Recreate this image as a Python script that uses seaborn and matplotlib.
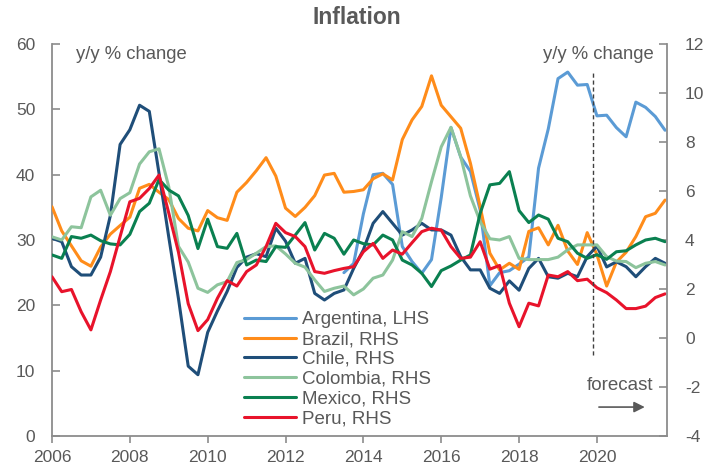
import numpy as np
import pandas as pd
import matplotlib.pyplot as plt
import seaborn as sns
from matplotlib.lines import Line2D

# quarterly observations, 2006Q1 .. 2021Q4
quarters = np.arange(2006, 2022, 0.25)

# Argentina is on the left axis, starts in mid-2013
argentina = [np.nan] * 30 + [
    25.0, 26.4,
    34.0, 40.0, 40.2, 38.5, 29.0, 26.7, 24.9, 27.0,
    36.5, 47.2, 42.7, 40.5, 34.6, 23.0, 25.0, 25.3,
    26.3, 27.4, 41.0, 47.0, 54.7, 55.7, 53.7, 53.8,
    49.0, 49.1, 47.2, 45.8, 51.1, 50.3, 48.9, 46.8]

brazil = [
    5.36, 4.37, 3.76, 3.15, 2.93, 3.71, 4.24, 4.59,
    4.93, 6.11, 6.27, 5.95, 5.65, 4.88, 4.48, 4.37,
    5.20, 4.91, 4.80, 5.95, 6.35, 6.83, 7.36, 6.61,
    5.30, 4.96, 5.33, 5.81, 6.65, 6.72, 5.95, 5.98,
    6.05, 6.50, 6.70, 6.45, 8.10, 8.90, 9.45, 10.70,
    9.50, 9.03, 8.56, 7.13, 5.36, 3.46, 2.78, 3.05,
    2.80, 4.35, 4.50, 3.80, 4.60, 3.55, 3.00, 4.30,
    3.40, 2.12, 3.10, 3.50, 4.14, 4.95, 5.09, 5.63]

chile = [
    4.07, 3.93, 2.91, 2.57, 2.57, 3.30, 5.00, 7.90,
    8.50, 9.50, 9.25, 6.72, 4.12, 1.60, -1.15, -1.50,
    0.23, 1.10, 1.90, 2.88, 3.30, 3.44, 3.32, 4.48,
    3.95, 3.05, 3.25, 1.82, 1.55, 1.82, 1.96, 2.84,
    3.60, 4.68, 5.16, 4.68, 4.20, 4.41, 4.68, 4.41,
    4.41, 4.20, 3.32, 2.78, 2.78, 2.03, 1.82, 2.33,
    1.95, 2.84, 3.25, 2.50, 2.44, 2.64, 2.50, 3.32,
    3.75, 2.90, 3.11, 2.91, 2.50, 2.91, 3.25, 3.05]

colombia = [
    4.13, 4.00, 4.54, 4.50, 5.76, 6.03, 5.01, 5.69,
    5.93, 7.10, 7.60, 7.72, 6.17, 3.74, 3.10, 2.03,
    1.86, 2.17, 2.30, 3.08, 3.20, 3.46, 3.73, 3.76,
    3.43, 3.05, 2.89, 2.37, 1.90, 2.03, 2.12, 1.76,
    2.00, 2.44, 2.57, 3.18, 4.34, 4.14, 4.88, 6.38,
    7.80, 8.60, 7.40, 5.80, 4.75, 4.05, 4.00, 4.14,
    3.25, 3.20, 3.20, 3.20, 3.30, 3.60, 3.80, 3.80,
    3.80, 3.32, 3.14, 3.12, 2.87, 3.05, 3.12, 2.98]

mexico = [
    3.39, 3.25, 4.14, 4.07, 4.20, 3.97, 3.84, 3.80,
    4.23, 5.16, 5.50, 6.47, 6.04, 5.80, 5.00, 3.65,
    4.85, 3.73, 3.66, 4.27, 2.98, 3.18, 3.12, 3.73,
    3.70, 4.20, 4.71, 3.59, 4.27, 4.07, 3.42, 4.00,
    3.85, 3.80, 4.20, 4.00, 3.18, 2.98, 2.64, 2.10,
    2.75, 2.94, 3.18, 3.39, 5.09, 6.25, 6.31, 6.79,
    5.20, 4.71, 5.02, 4.85, 4.07, 3.93, 3.46, 3.25,
    3.40, 3.21, 3.52, 3.56, 3.80, 4.00, 4.07, 3.93]

peru = [
    2.50, 1.89, 1.98, 1.07, 0.33, 1.55, 2.71, 4.14,
    5.56, 5.70, 6.10, 6.65, 5.10, 3.50, 1.40, 0.30,
    0.75, 1.62, 2.34, 2.12, 2.71, 2.98, 3.73, 4.68,
    4.30, 4.14, 3.73, 2.71, 2.64, 2.75, 2.84, 2.91,
    3.52, 3.86, 3.25, 3.59, 3.42, 3.89, 4.34, 4.48,
    4.40, 3.73, 3.25, 3.30, 3.93, 2.81, 2.96, 1.42,
    0.46, 1.42, 1.31, 2.57, 2.50, 2.71, 2.34, 2.40,
    2.05, 1.85, 1.55, 1.20, 1.20, 1.30, 1.65, 1.80]

FORECAST_X = 2019.9

colors = {
    'Argentina, LHS': '#5b9bd5',
    'Brazil, RHS': '#ff8c1a',
    'Chile, RHS': '#1f4e79',
    'Colombia, RHS': '#8dc49c',
    'Mexico, RHS': '#0a8050',
    'Peru, RHS': '#e8132b',
}

rhs = pd.DataFrame({
    'quarter': quarters,
    'Brazil, RHS': brazil,
    'Chile, RHS': chile,
    'Colombia, RHS': colombia,
    'Mexico, RHS': mexico,
    'Peru, RHS': peru,
}).melt(id_vars='quarter', var_name='series', value_name='yoy')

lhs = pd.DataFrame({'quarter': quarters, 'yoy': argentina}).dropna()

sns.set_theme(style='white')
plt.rcParams['font.family'] = ['Liberation Sans', 'DejaVu Sans']
plt.rcParams['axes.unicode_minus'] = False

grey = '#595959'
spine = '#8c8c8c'
lw = 2.2

fig = plt.figure(figsize=(7.21, 4.69), dpi=100)
ax = fig.add_axes([0.0721, 0.0704, 0.8530, 0.8358])
ax2 = ax.twinx()

sns.lineplot(data=lhs, x='quarter', y='yoy', ax=ax, color=colors['Argentina, LHS'], lw=lw)
sns.lineplot(data=rhs, x='quarter', y='yoy', hue='series', palette=colors, ax=ax2,
             lw=lw, legend=False)

ax.set_xlim(2006, 2021.8)
ax.set_ylim(0, 60)
ax2.set_ylim(-4, 12)
ax.set_xticks(range(2006, 2021, 2))
ax.set_yticks(range(0, 61, 10))
ax2.set_yticks(range(-4, 13, 2))
ax.set_xlabel('')
ax.set_ylabel('')
ax2.set_ylabel('')

for a in (ax, ax2):
    for s in a.spines.values():
        s.set_color(spine)
        s.set_linewidth(1.3)
    a.spines['top'].set_visible(False)
ax.spines['right'].set_visible(False)
ax2.spines['left'].set_visible(False)
ax2.spines['bottom'].set_visible(False)

ax.tick_params(axis='y', direction='in', length=6, width=1.2, color=spine,
               labelcolor=grey, labelsize=12.5, pad=12, left=True)
ax2.tick_params(axis='y', direction='in', length=6, width=1.2, color=spine,
                labelcolor=grey, labelsize=12.5, pad=13, right=True)
ax.tick_params(axis='x', direction='out', length=5, width=1.2, color=spine,
               labelcolor=grey, labelsize=12.5, pad=5, bottom=True)

# forecast marker
ax2.vlines(FORECAST_X, -0.7, 10.8, colors='#404040', linestyles=(0, (3, 2)), lw=1)
ax2.text(2020.6, -1.92, 'forecast', color=grey, fontsize=13.5, ha='center', va='center')
ax2.annotate('', xy=(2021.3, -2.82), xytext=(2019.98, -2.82),
             arrowprops=dict(arrowstyle='-|>', color=grey, lw=1.2, mutation_scale=16))

ax.text(0.039, 0.972, 'y/y % change', transform=ax.transAxes, color=grey,
        fontsize=13.3, ha='left', va='center')
ax.text(0.979, 0.972, 'y/y % change', transform=ax.transAxes, color=grey,
        fontsize=13.3, ha='right', va='center')

fig.text(0.495, 0.962, 'Inflation', color=grey, fontsize=16.5, fontweight='bold',
         ha='center', va='center')

handles = [Line2D([], [], color=c, lw=lw) for c in colors.values()]
ax2.legend(handles, list(colors.keys()), loc='upper left', bbox_to_anchor=(0.312, 0.318),
           frameon=False, fontsize=13.5, labelcolor=grey, handlelength=2.8,
           handletextpad=0.3, labelspacing=0.14, borderpad=0, borderaxespad=0)

fig.savefig('out.png', dpi=100)
